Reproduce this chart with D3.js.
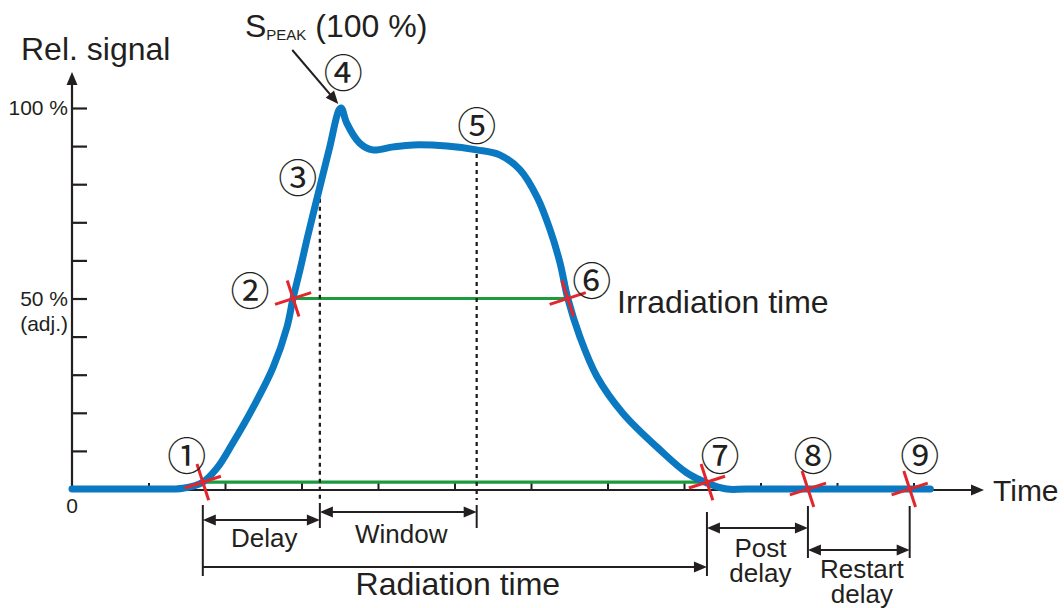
<!DOCTYPE html>
<html><head><meta charset="utf-8">
<script src="https://cdn.jsdelivr.net/npm/d3@7"></script>
<style>
html,body{margin:0;padding:0;background:#fff;}
svg{display:block;}
text{font-family:"Liberation Sans",Arial,sans-serif;fill:#231f20;}
</style></head><body>
<svg id="chart" width="1064" height="608"></svg>
<script>
// ---------- data ----------
const timeTicks = [1, 2, 3, 4, 5, 6, 7, 8, 9, 10, 11];
const signalTicks = [10, 20, 30, 40, 50, 60, 70, 80, 90, 100];
const yLabelValues = [100, 50];
const yLabelTexts = [["100 %"], ["50 %", "(adj.)"]];

const curveTime = [0, 1.0, 1.45, 1.71, 1.90, 2.10, 2.37, 2.63, 2.81, 2.89, 2.98, 3.07, 3.24, 3.37, 3.49, 3.52, 3.59, 3.76, 3.93, 4.20, 4.46, 4.90, 5.29, 5.59, 5.86, 6.08, 6.25, 6.38, 6.48, 6.64, 6.86, 7.20, 7.69, 8.04, 8.30, 8.56, 8.82, 11.22];
const curveSignal = [0, 0, 0.2, 1.8, 5.6, 12.0, 21.5, 32.0, 42.5, 50.1, 57.5, 65.4, 79.3, 89.8, 99.5, 100, 96.1, 90.8, 89.0, 89.8, 90.3, 90.0, 89.0, 87.7, 83.7, 76.6, 68.0, 59.3, 50.1, 39.9, 29.6, 19.9, 10.2, 4.2, 1.6, 0, 0, 0];

// numbered points
const pointLabels = ["①", "②", "③", "④", "⑤", "⑥", "⑦", "⑧", "⑨"];
const pointTime = [1.71, 2.89, 3.24, 3.52, 5.29, 6.48, 8.30, 9.62, 10.95];
const pointSignal = [1.8, 50, 79.3, 100, 89.0, 50, 1.8, 0, 0];
const crossPoints = [0, 1, 5, 6, 7, 8]; // indices of points marked with a red cross

// threshold lines (green)
const thresholdLevel = [50, 1.8];
const thresholdFrom = [2.89, 1.71];
const thresholdTo = [6.48, 8.30];

// time intervals
const dimStart = [1.71, 3.24, 1.71, 8.30, 9.62];
const dimEnd = [3.24, 5.29, 8.30, 9.62, 10.95];
const dimLabels = [["Delay"], ["Window"], ["Radiation time"], ["Post", "delay"], ["Restart", "delay"]];

// ---------- layout / style ----------
const ink = "#231f20", blue = "#0a79c1", red = "#e3262b", green = "#1c9a3e";
const svg = d3.select("#chart");
const x = d3.scaleLinear().domain([0, 12]).range([72, 990]);
const y = d3.scaleLinear().domain([0, 100]).range([489, 108]);
const axisY = y(0) + 1;

function arrowHead(g, tx, ty, ang, len = 13, half = 5.5) {
  const bx = tx - Math.cos(ang) * len, by = ty - Math.sin(ang) * len;
  const px = -Math.sin(ang) * half, py = Math.cos(ang) * half;
  g.append("path").attr("d", `M${tx},${ty}L${bx + px},${by + py}L${bx - px},${by - py}Z`).attr("fill", ink);
}
function arrowLine(g, x1, y1, x2, y2, s, e, w = 2) {
  const ang = Math.atan2(y2 - y1, x2 - x1), sh = 8;
  g.append("line")
    .attr("x1", s ? x1 + Math.cos(ang) * sh : x1).attr("y1", s ? y1 + Math.sin(ang) * sh : y1)
    .attr("x2", e ? x2 - Math.cos(ang) * sh : x2).attr("y2", e ? y2 - Math.sin(ang) * sh : y2)
    .attr("stroke", ink).attr("stroke-width", w);
  if (e) arrowHead(g, x2, y2, ang);
  if (s) arrowHead(g, x1, y1, ang + Math.PI);
}
function vline(g, xp, y1, y2, w = 2) {
  g.append("line").attr("x1", xp).attr("x2", xp).attr("y1", y1).attr("y2", y2).attr("stroke", ink).attr("stroke-width", w);
}

// axes ticks via d3 axes
const gy = svg.append("g").attr("transform", `translate(${x(0)},0)`)
  .call(d3.axisRight(y).tickValues(signalTicks).tickSize(15).tickFormat(""));
gy.select(".domain").remove();
gy.selectAll(".tick line").attr("stroke", ink).attr("stroke-width", 2.2);

const gx = svg.append("g").attr("transform", `translate(0,${axisY})`)
  .call(d3.axisTop(x).tickValues(timeTicks).tickSize(7).tickFormat(""));
gx.select(".domain").remove();
gx.selectAll(".tick line").attr("stroke", ink).attr("stroke-width", 2);

const ga = svg.append("g");
arrowLine(ga, x(0), axisY, x(0), 72, false, true, 2.2);
arrowLine(ga, x(0), axisY, 984, axisY, false, true, 2.2);

// axis labels
svg.append("text").attr("x", 21).attr("y", 60).attr("font-size", 32).text("Rel. signal");
svg.append("text").attr("x", 993).attr("y", 501).attr("font-size", 30).text("Time");
svg.append("text").attr("x", x(0)).attr("y", 513).attr("font-size", 21).attr("text-anchor", "middle").text("0");
yLabelValues.forEach((v, i) => {
  const t = svg.append("text").attr("x", 68).attr("y", y(v) + 7).attr("font-size", 21).attr("text-anchor", "end");
  yLabelTexts[i].forEach((s, j) => t.append("tspan").attr("x", 68).attr("dy", j ? 25 : 0).text(s));
});

// threshold lines
thresholdLevel.forEach((lv, i) => {
  svg.append("line").attr("x1", x(thresholdFrom[i])).attr("x2", x(thresholdTo[i]))
    .attr("y1", y(lv)).attr("y2", y(lv)).attr("stroke", green).attr("stroke-width", 3.2);
});

// dotted guides for points 3 and 5
[2, 4].forEach(i => {
  svg.append("line").attr("x1", x(pointTime[i])).attr("x2", x(pointTime[i]))
    .attr("y1", y(pointSignal[i]) + 4).attr("y2", axisY + 10)
    .attr("stroke", ink).attr("stroke-width", 2.3).attr("stroke-dasharray", "4,4");
});

// signal curve
const line = d3.line().x((d, i) => x(curveTime[i])).y((d, i) => y(curveSignal[i])).curve(d3.curveCatmullRom.alpha(0.5));
svg.append("path").datum(curveTime).attr("d", line).attr("fill", "none")
  .attr("stroke", blue).attr("stroke-width", 7).attr("stroke-linecap", "round").attr("stroke-linejoin", "round");

// red crosses
crossPoints.forEach(i => {
  const g = svg.append("g").attr("transform", `translate(${x(pointTime[i])},${y(pointSignal[i])}) rotate(-18)`);
  g.append("line").attr("x1", -19).attr("x2", 19).attr("y1", 0).attr("y2", 0).attr("stroke", red).attr("stroke-width", 3);
  g.append("line").attr("x1", 0).attr("x2", 0).attr("y1", -19).attr("y2", 19).attr("stroke", red).attr("stroke-width", 3);
});

// numbered labels
const labelOffsets = [[-16, -29], [-43, -11], [-22, -12], [2, -38], [0, -27], [24, -21], [13, -29], [5, -36], [10, -36]];
pointLabels.forEach((s, i) => {
  svg.append("text").attr("x", x(pointTime[i]) + labelOffsets[i][0]).attr("y", y(pointSignal[i]) + labelOffsets[i][1])
    .attr("text-anchor", "middle").attr("dominant-baseline", "central")
    .style("font-family", "'Noto Sans CJK JP','DejaVu Sans',sans-serif").attr("font-size", 39).text(s);
});

// S_PEAK label + arrow
const pk = [x(pointTime[3]), y(pointSignal[3])];
const sp = svg.append("text").attr("x", 245).attr("y", 37).attr("font-size", 32);
sp.append("tspan").text("S");
sp.append("tspan").attr("font-size", 15).attr("dy", 3).text("PEAK");
sp.append("tspan").attr("dy", -3).text(" (100 %)");
arrowLine(svg, pk[0] - 49, pk[1] - 58, pk[0] - 3, pk[1] - 4, false, true, 2);

// Irradiation time
svg.append("text").attr("x", 617).attr("y", 313).attr("font-size", 32).text("Irradiation time");

// dimension lines
const gd = svg.append("g");
vline(gd, x(dimStart[0]), 505, 576);
vline(gd, x(dimStart[1]), 503, 528);
vline(gd, x(dimEnd[1]), 505, 528);
vline(gd, x(dimEnd[2]), 512, 576);
vline(gd, x(dimEnd[3]), 506, 558);
vline(gd, x(dimEnd[4]), 506, 558);
const dimY = [520, 512, 567, 528, 550];
const dimLabelY = [547, 543, 595, 557, 578];
const dimFont = [26, 26, 32, 26, 26];
dimStart.forEach((s, i) => {
  arrowLine(gd, x(s), dimY[i], x(dimEnd[i]), dimY[i], i !== 2, true, 2);
  const cx = (x(s) + x(dimEnd[i])) / 2 + 3;
  const t = gd.append("text").attr("x", cx).attr("y", dimLabelY[i]).attr("font-size", dimFont[i]).attr("text-anchor", "middle");
  dimLabels[i].forEach((l, j) => t.append("tspan").attr("x", cx).attr("dy", j ? 25 : 0).text(l));
});
</script>
</body></html>
